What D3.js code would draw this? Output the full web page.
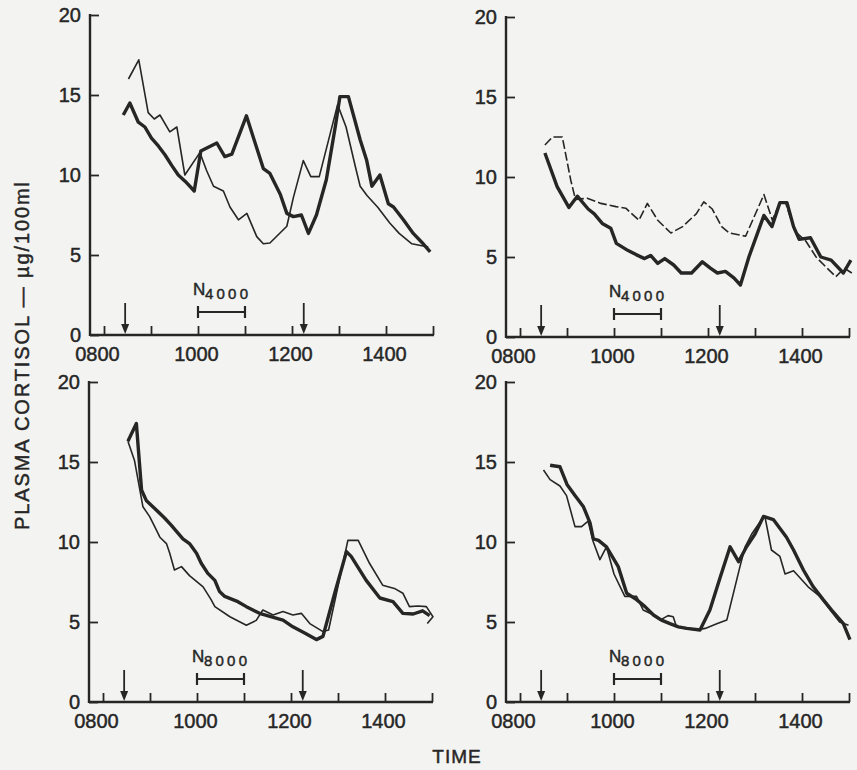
<!DOCTYPE html>
<html>
<head>
<meta charset="utf-8">
<script src="https://cdn.jsdelivr.net/npm/d3@7"></script>
<style>
  html, body { margin: 0; padding: 0; background: #f3f3f1; }
  svg { display: block; }
  svg text { stroke: #262626; stroke-width: 0.45px; }
</style>
</head>
<body>
<div id="chart"></div>
<script>
// Plasma cortisol (µg/100ml) against clock time (decimal hours), four subjects.
// Each series: [time, value]. Thick = one session, thin = the other.

const tlThick = [[8.41,13.75],[8.55,14.5],[8.73,13.3],[8.87,13.0],[9.01,12.3],[9.16,11.8],[9.30,11.25],[9.44,10.6],[9.58,10.0],[9.73,9.6],[9.92,9.0],[10.06,11.5],[10.40,12.0],[10.57,11.15],[10.72,11.3],[11.03,13.7],[11.39,10.4],[11.53,10.1],[11.75,8.8],[11.89,7.6],[12.03,7.4],[12.20,7.5],[12.35,6.35],[12.52,7.5],[12.73,9.7],[12.92,13.0],[13.02,14.9],[13.20,14.9],[13.45,12.2],[13.59,10.9],[13.70,9.3],[13.87,10.0],[14.05,8.2],[14.16,8.0],[14.37,7.2],[14.58,6.35],[14.76,5.8],[14.94,5.2]];
const tlThin = [[8.52,16.0],[8.74,17.2],[8.94,13.9],[9.07,13.5],[9.19,13.75],[9.40,12.7],[9.55,13.0],[9.72,10.0],[10.04,11.4],[10.18,10.3],[10.33,9.3],[10.54,9.0],[10.68,8.0],[10.86,7.2],[11.04,7.6],[11.25,6.15],[11.39,5.7],[11.53,5.75],[11.89,6.8],[12.03,8.6],[12.24,10.9],[12.40,9.9],[12.58,9.9],[12.97,14.4],[13.15,13.0],[13.35,10.5],[13.45,9.3],[13.60,8.7],[13.82,8.0],[14.08,7.0],[14.28,6.35],[14.55,5.7],[14.90,5.5]];

const trThick = [[8.53,11.5],[8.79,9.4],[9.04,8.1],[9.22,8.8],[9.45,8.0],[9.58,7.7],[9.75,7.1],[9.93,6.8],[10.05,5.85],[10.30,5.4],[10.47,5.15],[10.65,4.9],[10.78,5.1],[10.93,4.6],[11.08,4.9],[11.27,4.5],[11.43,4.0],[11.65,4.0],[11.88,4.7],[12.05,4.3],[12.20,4.0],[12.37,4.1],[12.55,3.7],[12.69,3.25],[12.87,5.0],[13.19,7.6],[13.36,6.9],[13.53,8.4],[13.68,8.4],[13.82,6.9],[13.94,6.1],[14.18,6.2],[14.40,5.0],[14.62,4.8],[14.88,4.0],[15.04,4.8]];
const trThin = [[8.53,12.0],[8.69,12.5],[8.90,12.5],[9.08,9.8],[9.18,8.6],[9.43,8.67],[9.72,8.35],[10.04,8.15],[10.25,8.05],[10.53,7.3],[10.71,8.35],[10.93,7.3],[11.21,6.5],[11.46,6.9],[11.75,7.7],[11.91,8.45],[12.09,8.0],[12.29,6.9],[12.45,6.5],[12.80,6.3],[13.19,8.9],[13.37,7.3],[13.53,8.4],[13.65,8.4],[13.85,6.6],[14.08,6.0],[14.30,5.0],[14.50,4.4],[14.72,3.77],[14.90,4.3],[15.06,4.0]];

const blThick = [[8.53,16.3],[8.71,17.4],[8.82,13.25],[8.92,12.6],[9.10,12.1],[9.31,11.5],[9.45,11.06],[9.70,10.2],[9.84,9.9],[9.99,9.3],[10.09,8.67],[10.23,8.04],[10.38,7.6],[10.48,6.9],[10.59,6.6],[10.87,6.27],[11.05,5.96],[11.19,5.75],[11.33,5.54],[11.55,5.35],[11.83,5.12],[12.04,4.7],[12.30,4.3],[12.54,3.9],[12.68,4.1],[12.93,6.8],[13.18,9.4],[13.28,9.1],[13.60,7.6],[13.89,6.5],[14.17,6.27],[14.38,5.54],[14.60,5.5],[14.80,5.7],[14.95,5.4]];
const blThin = [[8.53,16.3],[8.67,15.1],[8.85,12.2],[8.99,11.6],[9.10,10.96],[9.21,10.3],[9.35,9.9],[9.42,9.3],[9.52,8.25],[9.67,8.46],[9.84,7.9],[10.13,7.2],[10.30,6.4],[10.38,5.96],[10.70,5.33],[11.05,4.8],[11.26,5.1],[11.40,5.75],[11.62,5.44],[11.83,5.65],[12.04,5.44],[12.22,5.54],[12.40,4.9],[12.68,4.4],[12.80,4.5],[13.21,10.1],[13.43,10.1],[13.67,8.67],[13.95,7.3],[14.20,7.1],[14.38,6.8],[14.52,5.96],[14.70,6.0],[14.88,5.96],[15.02,5.33],[14.90,4.9]];

const brThick = [[8.64,14.8],[8.85,14.7],[9.00,13.6],[9.17,12.9],[9.35,12.2],[9.49,11.2],[9.56,10.2],[9.67,10.1],[9.84,9.7],[10.09,8.46],[10.27,6.8],[10.48,6.4],[10.66,5.96],[10.84,5.44],[11.01,5.12],[11.19,4.9],[11.37,4.7],[11.55,4.6],[11.83,4.5],[12.04,5.75],[12.26,7.8],[12.47,9.7],[12.65,8.77],[12.82,9.7],[13.00,10.5],[13.18,11.6],[13.39,11.4],[13.67,10.3],[13.82,9.5],[14.03,8.25],[14.24,7.2],[14.45,6.4],[14.63,5.75],[14.88,4.9],[15.02,3.9]];
const brThin = [[8.50,14.5],[8.64,13.9],[8.85,13.5],[8.99,12.9],[9.17,10.96],[9.31,10.96],[9.45,11.3],[9.56,10.0],[9.70,8.9],[9.84,9.7],[10.00,8.0],[10.23,6.6],[10.48,6.6],[10.62,5.75],[10.80,5.5],[10.98,5.12],[11.15,5.4],[11.26,5.33],[11.33,4.7],[11.51,4.6],[11.76,4.5],[11.94,4.6],[12.20,4.9],[12.40,5.12],[12.68,8.46],[12.79,9.7],[12.93,10.5],[13.14,11.4],[13.21,11.6],[13.35,9.5],[13.53,9.1],[13.64,8.0],[13.82,8.2],[14.13,7.2],[14.38,6.6],[14.60,5.75],[14.80,5.0],[14.99,4.8]];

// Axes and annotations
const hourTicks = [8, 9, 10, 11, 12, 13, 14, 15];
const labelledHours = [8, 10, 12, 14];
const yTicks = [0, 5, 10, 15, 20];
const arrowTimes = [8.45, 12.25];
const noiseBlock = [10, 11];
const noiseLevels = ["4000", "4000", "8000", "8000"];

const CONFIG = {
    width: 857,
    height: 770,
    hourPx: 47,
    leadPx: 14,
    unitPx: 16,
    ink: "#262626",
    bg: "#f3f3f1",
    font: "'Liberation Sans', Arial, Helvetica, sans-serif"
};

const PANELS = [
    { left: 90,  base: 335, thick: tlThick, thin: tlThin, dash: null },
    { left: 506, base: 337, thick: trThick, thin: trThin, dash: "9,3" },
    { left: 89,  base: 702, thick: blThick, thin: blThin, dash: null },
    { left: 506, base: 702, thick: brThick, thin: brThin, dash: null }
];

const svg = d3.select("#chart").append("svg")
    .attr("width", CONFIG.width)
    .attr("height", CONFIG.height)
    .style("font-family", CONFIG.font);

svg.append("rect")
    .attr("width", CONFIG.width)
    .attr("height", CONFIG.height)
    .attr("fill", CONFIG.bg);

PANELS.forEach((p, i) => drawPanel(p, noiseLevels[i]));

// Shared axis titles
svg.append("text")
    .attr("transform", "translate(29,356) rotate(-90)")
    .attr("text-anchor", "middle")
    .attr("font-size", 20)
    .attr("textLength", 348)
    .attr("lengthAdjust", "spacing")
    .attr("fill", CONFIG.ink)
    .text("PLASMA CORTISOL — µg/100ml");

svg.append("text")
    .attr("x", 457)
    .attr("y", 763)
    .attr("text-anchor", "middle")
    .attr("font-size", 19)
    .attr("letter-spacing", 1)
    .attr("fill", CONFIG.ink)
    .text("TIME");

/**
 * One panel: axes, arrows, noise bracket and the two cortisol traces
 */
function drawPanel(p, level) {
    const x0 = p.left + CONFIG.leadPx;
    const x = d3.scaleLinear()
        .domain([8, 15])
        .range([x0, x0 + 7 * CONFIG.hourPx]);
    const y = d3.scaleLinear()
        .domain([0, 20])
        .range([p.base, p.base - 20 * CONFIG.unitPx]);

    const g = svg.append("g");

    // axis lines
    g.append("line")
        .attr("x1", p.left).attr("x2", x(15) + 1)
        .attr("y1", p.base).attr("y2", p.base)
        .attr("stroke", CONFIG.ink).attr("stroke-width", 2.4);
    g.append("line")
        .attr("x1", p.left).attr("x2", p.left)
        .attr("y1", p.base + 1).attr("y2", y(20) - 1)
        .attr("stroke", CONFIG.ink).attr("stroke-width", 2.4);

    // x axis ticks pointing up
    const xAxis = g.append("g")
        .attr("transform", `translate(0,${p.base})`)
        .call(d3.axisBottom(x)
            .tickValues(hourTicks)
            .tickSize(-9)
            .tickPadding(12)
            .tickFormat(d => labelledHours.includes(d) ? String(d * 100).padStart(4, "0") : ""));
    xAxis.select(".domain").remove();
    xAxis.selectAll("line").attr("stroke", CONFIG.ink).attr("stroke-width", 1.8);
    xAxis.selectAll("text")
        .attr("font-size", 20)
        .attr("fill", CONFIG.ink)
        .attr("dy", "0.71em")
        .attr("dx", d => d === 8 ? -7 : -2);

    // y axis ticks pointing right
    const yAxis = g.append("g")
        .attr("transform", `translate(${p.left},0)`)
        .call(d3.axisLeft(y)
            .tickValues(yTicks)
            .tickSize(-9)
            .tickPadding(9));
    yAxis.select(".domain").remove();
    yAxis.selectAll("line").attr("stroke", CONFIG.ink).attr("stroke-width", 1.8);
    yAxis.selectAll("text")
        .attr("font-size", 20)
        .attr("fill", CONFIG.ink);

    // arrows on the time axis
    arrowTimes.forEach(t => {
        const ax = x(t);
        g.append("line")
            .attr("x1", ax).attr("x2", ax)
            .attr("y1", p.base - 32).attr("y2", p.base - 8)
            .attr("stroke", CONFIG.ink).attr("stroke-width", 1.8);
        g.append("path")
            .attr("d", `M${ax - 4},${p.base - 11}L${ax + 4},${p.base - 11}L${ax},${p.base - 1}Z`)
            .attr("fill", CONFIG.ink);
    });

    // noise exposure bracket
    const bx1 = x(noiseBlock[0]), bx2 = x(noiseBlock[1]), by = p.base - 23;
    g.append("path")
        .attr("d", `M${bx1},${by - 6}V${by + 6}M${bx1},${by}H${bx2}M${bx2},${by - 6}V${by + 6}`)
        .attr("fill", "none")
        .attr("stroke", CONFIG.ink)
        .attr("stroke-width", 2.2);
    g.append("text")
        .attr("x", bx1 - 5)
        .attr("y", p.base - 40)
        .attr("font-size", 17)
        .attr("fill", CONFIG.ink)
        .text("N");
    g.append("text")
        .attr("x", bx1 + 7)
        .attr("y", p.base - 36)
        .attr("font-size", 15)
        .attr("textLength", 43)
        .attr("lengthAdjust", "spacing")
        .attr("fill", CONFIG.ink)
        .text(level);

    // traces
    const line = d3.line()
        .x(d => x(d[0]))
        .y(d => y(d[1]));

    g.append("path")
        .datum(p.thin)
        .attr("d", line)
        .attr("fill", "none")
        .attr("stroke", CONFIG.ink)
        .attr("stroke-width", 1.6)
        .attr("stroke-dasharray", p.dash)
        .attr("stroke-linejoin", "round");

    g.append("path")
        .datum(p.thick)
        .attr("d", line)
        .attr("fill", "none")
        .attr("stroke", CONFIG.ink)
        .attr("stroke-width", 3.4)
        .attr("stroke-linejoin", "round");
}
</script>
</body>
</html>
